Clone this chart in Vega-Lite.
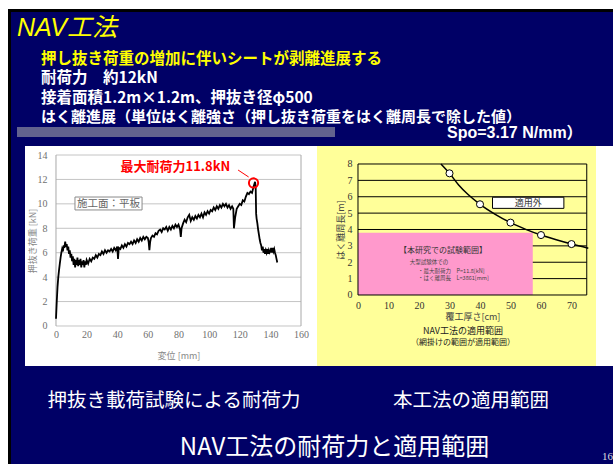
{
  "$schema": "https://vega.github.io/schema/vega-lite/v6.json",
  "background": "white",
  "padding": {"left": 8, "top": 9, "right": 0, "bottom": 0},
  "autosize": {"type": "pad"},
  "config": {
    "view": {"stroke": null, "fill": "#000066"},
    "font": "Noto Sans CJK JP",
    "concat": {"spacing": 0}
  },
  "spacing": 0,
  "vconcat": [
    {
      "width": 605,
      "height": 137,
      "layer": [
        {
          "data": {"values": [{}]},
          "mark": {"type": "rect", "color": "black"},
          "encoding": {
            "x": {"datum": 0, "type": "quantitative", "scale": {"domain": [0, 605], "nice": false, "zero": false}, "axis": null},
            "x2": {"datum": 605},
            "y": {"datum": 0, "type": "quantitative", "scale": {"domain": [0, 137], "nice": false, "zero": false, "reverse": true}, "axis": null},
            "y2": {"datum": 3}
          }
        },
        {
          "data": {"values": [{}]},
          "mark": {"type": "rect", "color": "black"},
          "encoding": {
            "x": {"datum": 0, "type": "quantitative", "axis": null},
            "x2": {"datum": 3},
            "y": {"datum": 0, "type": "quantitative", "axis": null},
            "y2": {"datum": 137}
          }
        },
        {
          "data": {"values": [{}]},
          "mark": {"type": "rect", "color": "#62628e"},
          "encoding": {
            "x": {"datum": 9, "type": "quantitative", "axis": null},
            "x2": {"datum": 327},
            "y": {"datum": 118, "type": "quantitative", "axis": null},
            "y2": {"datum": 128}
          }
        },
        {
          "data": {"values": [{"label": "NAV工法"}]},
          "mark": {"type": "text", "align": "left", "baseline": "alphabetic", "fontSize": 25, "fontStyle": "italic", "font": "Liberation Sans, Noto Sans CJK JP", "color": "#ffff00"},
          "encoding": {
            "x": {"datum": 9, "type": "quantitative", "axis": null},
            "y": {"datum": 27, "type": "quantitative", "axis": null},
            "text": {"field": "label"}
          }
        },
        {
          "data": {"values": [{"label": "押し抜き荷重の増加に伴いシートが剥離進展する"}]},
          "mark": {"type": "text", "align": "left", "baseline": "middle", "fontSize": 15.5, "fontWeight": "bold", "color": "#ffff00"},
          "encoding": {
            "x": {"datum": 33, "type": "quantitative", "axis": null},
            "y": {"datum": 49.5, "type": "quantitative", "axis": null},
            "text": {"field": "label"}
          }
        },
        {
          "data": {"values": [{"label": "耐荷力　約12kN"}]},
          "mark": {"type": "text", "align": "left", "baseline": "middle", "fontSize": 15.5, "fontWeight": "bold", "color": "white"},
          "encoding": {
            "x": {"datum": 33, "type": "quantitative", "axis": null},
            "y": {"datum": 69, "type": "quantitative", "axis": null},
            "text": {"field": "label"}
          }
        },
        {
          "data": {"values": [{"label": "接着面積1.2m×1.2m、押抜き径φ500"}]},
          "mark": {"type": "text", "align": "left", "baseline": "middle", "fontSize": 15.5, "fontWeight": "bold", "color": "white"},
          "encoding": {
            "x": {"datum": 33, "type": "quantitative", "axis": null},
            "y": {"datum": 88.5, "type": "quantitative", "axis": null},
            "text": {"field": "label"}
          }
        },
        {
          "data": {"values": [{"label": "はく離進展（単位はく離強さ（押し抜き荷重をはく離周長で除した値）"}]},
          "mark": {"type": "text", "align": "left", "baseline": "middle", "fontSize": 15, "fontWeight": "bold", "color": "white"},
          "encoding": {
            "x": {"datum": 33, "type": "quantitative", "axis": null},
            "y": {"datum": 108, "type": "quantitative", "axis": null},
            "text": {"field": "label"}
          }
        },
        {
          "data": {"values": [{"label": "Spo=3.17 N/mm）"}]},
          "mark": {"type": "text", "align": "left", "baseline": "alphabetic", "fontSize": 16, "fontWeight": "bold", "font": "Liberation Sans, Noto Sans CJK JP", "color": "white"},
          "encoding": {
            "x": {"datum": 439, "type": "quantitative", "axis": null},
            "y": {"datum": 129, "type": "quantitative", "axis": null},
            "text": {"field": "label"}
          }
        }
      ]
    },
    {
      "spacing": 0,
      "bounds": "flush",
      "hconcat": [
        {
          "width": 17,
          "height": 220,
          "data": {"values": [{}]},
          "mark": {"type": "rect", "color": "black"},
          "encoding": {
            "x": {"datum": 0, "type": "quantitative", "scale": {"domain": [0, 17], "nice": false, "zero": false}, "axis": null},
            "x2": {"datum": 3},
            "y": {"datum": 0, "type": "quantitative", "scale": {"domain": [0, 1], "nice": false}, "axis": null},
            "y2": {"datum": 1}
          }
        },
        {
          "width": 287,
          "height": 220,
          "view": {"fill": "white", "stroke": null},
          "layer": [
            {
              "data": {"values": [{"g": 0}, {"g": 2}, {"g": 4}, {"g": 6}, {"g": 8}, {"g": 10}, {"g": 12}, {"g": 14}]},
              "mark": {"type": "rule", "color": "#c4c4c4", "strokeWidth": 1},
              "encoding": {
                "x": {
                  "datum": 0, "type": "quantitative",
                  "scale": {"domain": [-20.24, 167.18], "nice": false, "zero": false},
                  "axis": {
                    "title": "変位 [mm]", "orient": "bottom", "offset": -40,
                    "values": [0, 20, 40, 60, 80, 100, 120, 140, 160], "tickCount": 50, "format": "d",
                    "domain": false, "ticks": false, "grid": false, "labelOverlap": false, "labelFlush": false,
                    "labelPadding": 3, "labelFont": "Liberation Serif", "labelFontSize": 10, "labelColor": "#707070",
                    "titleFontSize": 9, "titleFontWeight": "normal", "titleColor": "#888888",
                    "titleX": 153.5, "titleY": 29, "titleBaseline": "middle", "titleAlign": "center"
                  }
                },
                "x2": {"datum": 160},
                "y": {
                  "field": "g", "type": "quantitative",
                  "scale": {"domain": [-3.275, 14.737], "nice": false, "zero": false},
                  "axis": {
                    "title": "押抜き荷重 [kN]", "orient": "left", "offset": -31,
                    "values": [0, 2, 4, 6, 8, 10, 12, 14], "tickCount": 50, "format": "d",
                    "domain": false, "ticks": false, "grid": false, "labelOverlap": false, "labelFlush": false,
                    "labelPadding": 9, "labelFont": "Liberation Serif", "labelFontSize": 10, "labelColor": "#707070",
                    "titleFontSize": 9, "titleFontWeight": "normal", "titleColor": "#888888",
                    "titleX": -24, "titleY": 94.5, "titleAngle": -90, "titleBaseline": "middle", "titleAlign": "center"
                  }
                }
              }
            },
            {
              "data": {"values": [{"v": 0}, {"v": 160}]},
              "mark": {"type": "rule", "color": "#a8a8a8", "strokeWidth": 1},
              "encoding": {
                "x": {"field": "v", "type": "quantitative"},
                "y": {"datum": 0, "type": "quantitative"},
                "y2": {"datum": 14}
              }
            },
            {
              "data": {"values": [
                {"disp": 0, "load": 0.6}, {"disp": 0.5, "load": 2.0}, {"disp": 1, "load": 3.2}, {"disp": 1.5, "load": 4.0}, {"disp": 2, "load": 4.6}, {"disp": 2.5, "load": 5.1}, {"disp": 3, "load": 5.6}, {"disp": 3.5, "load": 6.0}, {"disp": 4, "load": 6.3}, {"disp": 4.5, "load": 6.1}, {"disp": 5, "load": 6.6}, {"disp": 5.5, "load": 6.4}, {"disp": 6, "load": 6.9}, {"disp": 6.5, "load": 6.5}, {"disp": 7, "load": 6.7}, {"disp": 7.5, "load": 6.2}, {"disp": 8, "load": 6.5}, {"disp": 8.5, "load": 5.9}, {"disp": 9, "load": 6.2}, {"disp": 9.5, "load": 5.6}, {"disp": 10, "load": 5.9}, {"disp": 10.5, "load": 5.3}, {"disp": 11, "load": 5.7}, {"disp": 11.5, "load": 5.0}, {"disp": 12, "load": 5.5}, {"disp": 12.5, "load": 4.8}, {"disp": 13, "load": 5.4}, {"disp": 13.5, "load": 5.0}, {"disp": 14, "load": 5.6}, {"disp": 14.5, "load": 4.9}, {"disp": 15, "load": 5.4}, {"disp": 15.5, "load": 5.0}, {"disp": 16, "load": 5.5}, {"disp": 16.5, "load": 4.8}, {"disp": 17, "load": 5.3}, {"disp": 17.5, "load": 5.0}, {"disp": 18, "load": 5.4}, {"disp": 18.5, "load": 4.8}, {"disp": 19, "load": 5.3}, {"disp": 19.5, "load": 5.0}, {"disp": 20, "load": 5.4}, {"disp": 21, "load": 5.1}, {"disp": 22, "load": 5.5}, {"disp": 23, "load": 5.3}, {"disp": 24, "load": 5.6}, {"disp": 25, "load": 5.5}, {"disp": 26, "load": 5.8}, {"disp": 27, "load": 5.6}, {"disp": 28, "load": 5.9}, {"disp": 29, "load": 5.8}, {"disp": 30, "load": 6.1}, {"disp": 31, "load": 5.9}, {"disp": 32, "load": 6.2}, {"disp": 33, "load": 6.0}, {"disp": 34, "load": 6.2}, {"disp": 35, "load": 6.1}, {"disp": 36, "load": 6.3}, {"disp": 37, "load": 6.1}, {"disp": 38, "load": 6.4}, {"disp": 39, "load": 6.2}, {"disp": 40, "load": 6.5}, {"disp": 40.5, "load": 5.5}, {"disp": 41, "load": 6.4}, {"disp": 42, "load": 6.3}, {"disp": 43, "load": 6.6}, {"disp": 44, "load": 6.4}, {"disp": 45, "load": 6.7}, {"disp": 46, "load": 6.5}, {"disp": 47, "load": 6.8}, {"disp": 48, "load": 6.7}, {"disp": 49, "load": 6.9}, {"disp": 50, "load": 6.7}, {"disp": 51, "load": 7.0}, {"disp": 52, "load": 6.8}, {"disp": 53, "load": 7.1}, {"disp": 54, "load": 6.9}, {"disp": 55, "load": 7.2}, {"disp": 56, "load": 7.0}, {"disp": 57, "load": 7.3}, {"disp": 58, "load": 7.1}, {"disp": 59, "load": 7.3}, {"disp": 60, "load": 7.2}, {"disp": 60.5, "load": 6.9}, {"disp": 61, "load": 6.2}, {"disp": 61.5, "load": 6.9}, {"disp": 62, "load": 7.2}, {"disp": 63, "load": 7.4}, {"disp": 64, "load": 7.3}, {"disp": 65, "load": 7.6}, {"disp": 66, "load": 7.5}, {"disp": 67, "load": 7.8}, {"disp": 68, "load": 7.9}, {"disp": 69, "load": 7.7}, {"disp": 70, "load": 8.0}, {"disp": 71, "load": 7.9}, {"disp": 72, "load": 8.1}, {"disp": 73, "load": 7.8}, {"disp": 74, "load": 8.1}, {"disp": 75, "load": 7.9}, {"disp": 76, "load": 8.2}, {"disp": 77, "load": 8.0}, {"disp": 78, "load": 8.3}, {"disp": 79, "load": 8.1}, {"disp": 80, "load": 8.3}, {"disp": 81, "load": 7.9}, {"disp": 81.5, "load": 7.3}, {"disp": 82, "load": 8.0}, {"disp": 83, "load": 8.4}, {"disp": 84, "load": 8.7}, {"disp": 85, "load": 8.5}, {"disp": 86, "load": 8.9}, {"disp": 87, "load": 9.1}, {"disp": 88, "load": 8.6}, {"disp": 89, "load": 8.9}, {"disp": 90, "load": 8.7}, {"disp": 91, "load": 9.0}, {"disp": 92, "load": 8.8}, {"disp": 93, "load": 9.1}, {"disp": 94, "load": 8.9}, {"disp": 95, "load": 9.2}, {"disp": 96, "load": 8.9}, {"disp": 97, "load": 9.3}, {"disp": 98, "load": 9.1}, {"disp": 99, "load": 9.4}, {"disp": 100, "load": 9.2}, {"disp": 101, "load": 9.5}, {"disp": 102, "load": 9.4}, {"disp": 103, "load": 9.7}, {"disp": 104, "load": 9.5}, {"disp": 105, "load": 9.8}, {"disp": 106, "load": 9.6}, {"disp": 107, "load": 9.9}, {"disp": 108, "load": 9.7}, {"disp": 109, "load": 10.0}, {"disp": 110, "load": 9.8}, {"disp": 111, "load": 10.0}, {"disp": 112, "load": 9.7}, {"disp": 113, "load": 9.9}, {"disp": 114, "load": 9.6}, {"disp": 115, "load": 9.8}, {"disp": 115.8, "load": 9.6}, {"disp": 116.2, "load": 8.0}, {"disp": 117, "load": 8.9}, {"disp": 118, "load": 9.6}, {"disp": 119, "load": 9.8}, {"disp": 120, "load": 10.0}, {"disp": 121, "load": 9.9}, {"disp": 122, "load": 10.3}, {"disp": 123, "load": 10.2}, {"disp": 124, "load": 10.6}, {"disp": 125, "load": 10.9}, {"disp": 126, "load": 10.8}, {"disp": 127, "load": 11.0}, {"disp": 128, "load": 10.9}, {"disp": 129, "load": 11.4}, {"disp": 130, "load": 11.8}, {"disp": 130.4, "load": 11.4}, {"disp": 130.7, "load": 9.2}, {"disp": 131, "load": 8.8}, {"disp": 131.5, "load": 8.4}, {"disp": 132, "load": 7.9}, {"disp": 132.5, "load": 7.5}, {"disp": 133, "load": 7.1}, {"disp": 133.5, "load": 6.8}, {"disp": 134, "load": 6.6}, {"disp": 134.5, "load": 6.2}, {"disp": 135, "load": 6.5}, {"disp": 135.5, "load": 6.0}, {"disp": 136, "load": 6.3}, {"disp": 136.5, "load": 5.9}, {"disp": 137, "load": 6.2}, {"disp": 137.5, "load": 6.0}, {"disp": 138, "load": 6.3}, {"disp": 138.5, "load": 5.9}, {"disp": 139, "load": 6.2}, {"disp": 139.5, "load": 6.0}, {"disp": 140, "load": 6.1}, {"disp": 140.5, "load": 6.4}, {"disp": 141, "load": 6.0}, {"disp": 141.5, "load": 6.4}, {"disp": 142, "load": 6.1}, {"disp": 142.5, "load": 6.3}, {"disp": 143, "load": 6.0}, {"disp": 143.5, "load": 5.8}, {"disp": 144, "load": 5.5}, {"disp": 144.5, "load": 5.2}
              ]},
              "mark": {"type": "line", "color": "black", "strokeWidth": 1.8},
              "encoding": {
                "x": {"field": "disp", "type": "quantitative"},
                "y": {"field": "load", "type": "quantitative"}
              }
            },
            {
              "data": {"values": [{}]},
              "mark": {"type": "rect", "color": "white", "stroke": "#8a8a8a", "strokeWidth": 1},
              "encoding": {
                "x": {"datum": 12.4, "type": "quantitative"},
                "x2": {"datum": 56.2},
                "y": {"datum": 9.5, "type": "quantitative"},
                "y2": {"datum": 10.56}
              }
            },
            {
              "data": {"values": [{"label": "施工面：平板"}]},
              "mark": {"type": "text", "align": "center", "baseline": "middle", "fontSize": 10.5, "color": "#666666"},
              "encoding": {
                "x": {"datum": 34.3, "type": "quantitative"},
                "y": {"datum": 9.95, "type": "quantitative"},
                "text": {"field": "label"}
              }
            },
            {
              "data": {"values": [{"label": "最大耐荷力11.8kN"}]},
              "mark": {"type": "text", "align": "center", "baseline": "middle", "fontSize": 13, "fontWeight": "bold", "color": "#ff0000"},
              "encoding": {
                "x": {"datum": 78, "type": "quantitative"},
                "y": {"datum": 13.0, "type": "quantitative"},
                "text": {"field": "label"}
              }
            },
            {
              "data": {"values": [{}]},
              "mark": {"type": "rule", "color": "#ff0000", "strokeWidth": 1},
              "encoding": {
                "x": {"datum": 118.9, "type": "quantitative"},
                "x2": {"datum": 125.8},
                "y": {"datum": 12.77, "type": "quantitative"},
                "y2": {"datum": 12.2}
              }
            },
            {
              "data": {"values": [{"disp": 129.0, "load": 11.71}]},
              "mark": {"type": "point", "shape": "circle", "filled": false, "color": "#ff0000", "strokeWidth": 2, "size": 85, "opacity": 1},
              "encoding": {
                "x": {"field": "disp", "type": "quantitative"},
                "y": {"field": "load", "type": "quantitative"}
              }
            }
          ]
        },
        {
          "width": 5,
          "height": 220,
          "data": {"values": [{}]},
          "mark": {"type": "text", "text": ""}
        },
        {
          "width": 279,
          "height": 220,
          "view": {"fill": "#ffff99", "stroke": null},
          "layer": [
            {
              "data": {"values": [{"g": 1}, {"g": 2}, {"g": 3}, {"g": 4}, {"g": 5}, {"g": 6}, {"g": 7}]},
              "mark": {"type": "rule", "color": "black", "strokeWidth": 1},
              "encoding": {
                "x": {
                  "datum": 0, "type": "quantitative",
                  "scale": {"domain": [-13.44, 78.03], "nice": false, "zero": false},
                  "axis": {
                    "title": "覆工厚さ[cm]", "orient": "bottom", "offset": -71,
                    "values": [0, 10, 20, 30, 40, 50, 60, 70], "tickCount": 50, "format": "d",
                    "domain": false, "ticks": false, "grid": false, "labelOverlap": false, "labelFlush": false,
                    "labelPadding": 5, "labelFont": "Liberation Serif", "labelFontSize": 10, "labelColor": "#333333",
                    "titleFontSize": 9, "titleFontWeight": "normal", "titleColor": "#444444",
                    "titleX": 155.4, "titleY": 21, "titleBaseline": "middle", "titleAlign": "center"
                  }
                },
                "x2": {"datum": 75},
                "y": {
                  "field": "g", "type": "quantitative",
                  "scale": {"domain": [-4.336, 9.099], "nice": false, "zero": false},
                  "axis": {
                    "title": "はく離周長[m]", "orient": "left", "offset": -41,
                    "values": [0, 1, 2, 3, 4, 5, 6, 7, 8], "tickCount": 50, "format": "d",
                    "domain": false, "ticks": false, "grid": false, "labelOverlap": false, "labelFlush": false,
                    "labelPadding": 6, "labelFont": "Liberation Serif", "labelFontSize": 10, "labelColor": "#333333",
                    "titleFontSize": 9, "titleFontWeight": "normal", "titleColor": "#444444",
                    "titleX": -18, "titleY": 83.5, "titleAngle": -90, "titleBaseline": "middle", "titleAlign": "center"
                  }
                }
              }
            },
            {
              "data": {"values": [{}]},
              "mark": {"type": "rect", "color": "#ff99cc"},
              "encoding": {
                "x": {"datum": 0, "type": "quantitative"},
                "x2": {"datum": 57.3},
                "y": {"datum": 0, "type": "quantitative"},
                "y2": {"datum": 3.8}
              }
            },
            {
              "data": {"values": [{}]},
              "mark": {"type": "rect", "filled": false, "color": "black", "strokeWidth": 1},
              "encoding": {
                "x": {"datum": 0, "type": "quantitative"},
                "x2": {"datum": 75},
                "y": {"datum": 0, "type": "quantitative"},
                "y2": {"datum": 8}
              }
            },
            {
              "data": {"values": [{}]},
              "mark": {"type": "rect", "color": "white", "stroke": "black", "strokeWidth": 1},
              "encoding": {
                "x": {"datum": 44.1, "type": "quantitative"},
                "x2": {"datum": 67.5},
                "y": {"datum": 5.29, "type": "quantitative"},
                "y2": {"datum": 5.97}
              }
            },
            {
              "data": {"values": [{"label": "適用外"}]},
              "mark": {"type": "text", "align": "center", "baseline": "middle", "fontSize": 9, "color": "#333333"},
              "encoding": {
                "x": {"datum": 55.8, "type": "quantitative"},
                "y": {"datum": 5.63, "type": "quantitative"},
                "text": {"field": "label"}
              }
            },
            {
              "data": {"values": [
                {"t": 27.2, "p": 8.0}, {"t": 30, "p": 7.43}, {"t": 33, "p": 6.72}, {"t": 36, "p": 6.15}, {"t": 40, "p": 5.54}, {"t": 45, "p": 4.93}, {"t": 50, "p": 4.42}, {"t": 55, "p": 4.01}, {"t": 60, "p": 3.66}, {"t": 65, "p": 3.37}, {"t": 70, "p": 3.11}, {"t": 75.5, "p": 2.86}
              ]},
              "mark": {"type": "line", "color": "black", "strokeWidth": 1.5, "interpolate": "monotone"},
              "encoding": {
                "x": {"field": "t", "type": "quantitative"},
                "y": {"field": "p", "type": "quantitative"}
              }
            },
            {
              "data": {"values": [
                {"t": 30, "p": 7.43}, {"t": 40, "p": 5.54}, {"t": 50, "p": 4.42}, {"t": 60, "p": 3.66}, {"t": 70, "p": 3.11}
              ]},
              "mark": {"type": "point", "shape": "circle", "filled": true, "fill": "white", "stroke": "black", "strokeWidth": 1, "size": 50, "opacity": 1},
              "encoding": {
                "x": {"field": "t", "type": "quantitative"},
                "y": {"field": "p", "type": "quantitative"}
              }
            },
            {
              "data": {"values": [{"label": "【本研究での試験範囲】"}]},
              "mark": {"type": "text", "align": "center", "baseline": "middle", "fontSize": 8, "color": "#333333"},
              "encoding": {
                "x": {"datum": 27.9, "type": "quantitative"},
                "y": {"datum": 2.71, "type": "quantitative"},
                "text": {"field": "label"}
              }
            },
            {
              "data": {"values": [{"label": "大型試験体での"}]},
              "mark": {"type": "text", "align": "left", "baseline": "middle", "fontSize": 5.5, "color": "#444444"},
              "encoding": {
                "x": {"datum": 17.0, "type": "quantitative"},
                "y": {"datum": 2.03, "type": "quantitative"},
                "text": {"field": "label"}
              }
            },
            {
              "data": {"values": [{"label": "・最大耐荷力　P=11.8[kN]"}]},
              "mark": {"type": "text", "align": "left", "baseline": "middle", "fontSize": 5.5, "color": "#444444"},
              "encoding": {
                "x": {"datum": 19.7, "type": "quantitative"},
                "y": {"datum": 1.49, "type": "quantitative"},
                "text": {"field": "label"}
              }
            },
            {
              "data": {"values": [{"label": "・はく離周長　L=3861[mm]"}]},
              "mark": {"type": "text", "align": "left", "baseline": "middle", "fontSize": 5.5, "color": "#444444"},
              "encoding": {
                "x": {"datum": 19.7, "type": "quantitative"},
                "y": {"datum": 1.02, "type": "quantitative"},
                "text": {"field": "label"}
              }
            },
            {
              "data": {"values": [{"label": "NAV工法の適用範囲"}]},
              "mark": {"type": "text", "align": "center", "baseline": "middle", "fontSize": 9, "color": "#222222"},
              "encoding": {
                "x": {"datum": 34.4, "type": "quantitative"},
                "y": {"datum": -2.2, "type": "quantitative"},
                "text": {"field": "label"}
              }
            },
            {
              "data": {"values": [{"label": "（網掛けの範囲が適用範囲）"}]},
              "mark": {"type": "text", "align": "center", "baseline": "middle", "fontSize": 8, "color": "#222222"},
              "encoding": {
                "x": {"datum": 34.4, "type": "quantitative"},
                "y": {"datum": -2.95, "type": "quantitative"},
                "text": {"field": "label"}
              }
            }
          ]
        },
        {
          "width": 17,
          "height": 220,
          "data": {"values": [{}]},
          "mark": {"type": "text", "text": ""}
        }
      ]
    },
    {
      "width": 605,
      "height": 98,
      "layer": [
        {
          "data": {"values": [{}]},
          "mark": {"type": "rect", "color": "black"},
          "encoding": {
            "x": {"datum": 0, "type": "quantitative", "scale": {"domain": [0, 605], "nice": false, "zero": false}, "axis": null},
            "x2": {"datum": 3},
            "y": {"datum": 0, "type": "quantitative", "scale": {"domain": [0, 98], "nice": false, "zero": false, "reverse": true}, "axis": null},
            "y2": {"datum": 98}
          }
        },
        {
          "data": {"values": [{"label": "押抜き載荷試験による耐荷力"}]},
          "mark": {"type": "text", "align": "center", "baseline": "middle", "fontSize": 19.5, "color": "white"},
          "encoding": {
            "x": {"datum": 166, "type": "quantitative", "axis": null},
            "y": {"datum": 35, "type": "quantitative", "axis": null},
            "text": {"field": "label"}
          }
        },
        {
          "data": {"values": [{"label": "本工法の適用範囲"}]},
          "mark": {"type": "text", "align": "center", "baseline": "middle", "fontSize": 19.5, "color": "white"},
          "encoding": {
            "x": {"datum": 463, "type": "quantitative", "axis": null},
            "y": {"datum": 35, "type": "quantitative", "axis": null},
            "text": {"field": "label"}
          }
        },
        {
          "data": {"values": [{"label": "NAV工法の耐荷力と適用範囲"}]},
          "mark": {"type": "text", "align": "center", "baseline": "middle", "fontSize": 24, "color": "white"},
          "encoding": {
            "x": {"datum": 326.5, "type": "quantitative", "axis": null},
            "y": {"datum": 82, "type": "quantitative", "axis": null},
            "text": {"field": "label"}
          }
        },
        {
          "data": {"values": [{"label": "16"}]},
          "mark": {"type": "text", "align": "right", "baseline": "middle", "fontSize": 11, "font": "Liberation Serif", "color": "#dddddd"},
          "encoding": {
            "x": {"datum": 605, "type": "quantitative", "axis": null},
            "y": {"datum": 91, "type": "quantitative", "axis": null},
            "text": {"field": "label"}
          }
        }
      ]
    }
  ]
}
